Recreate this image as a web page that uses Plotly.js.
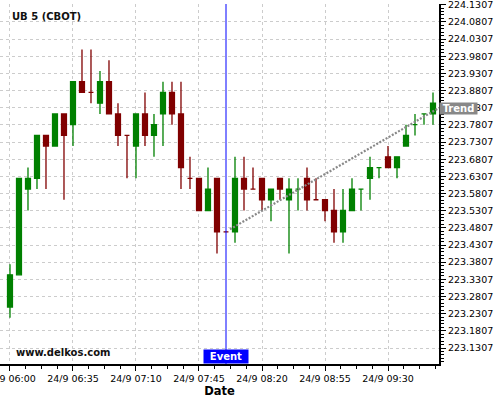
<!DOCTYPE html>
<html>
<head>
<meta charset="utf-8">
<script src="https://cdn.plot.ly/plotly-3.0.1.min.js"></script>
<style>html,body{margin:0;padding:0;background:#fff;}#chart{width:500px;height:400px;}</style>
</head>
<body>
<div id="chart"></div>
<script>
const times = [
  '2024-09-24 06:00','2024-09-24 06:05','2024-09-24 06:10','2024-09-24 06:15','2024-09-24 06:20','2024-09-24 06:25',
  '2024-09-24 06:30','2024-09-24 06:35','2024-09-24 06:40','2024-09-24 06:45','2024-09-24 06:50','2024-09-24 06:55',
  '2024-09-24 07:00','2024-09-24 07:05','2024-09-24 07:10','2024-09-24 07:15','2024-09-24 07:20','2024-09-24 07:25',
  '2024-09-24 07:30','2024-09-24 07:35','2024-09-24 07:40','2024-09-24 07:45','2024-09-24 07:50','2024-09-24 07:55',
  '2024-09-24 08:00','2024-09-24 08:05','2024-09-24 08:10','2024-09-24 08:15','2024-09-24 08:20','2024-09-24 08:25',
  '2024-09-24 08:30','2024-09-24 08:35','2024-09-24 08:40','2024-09-24 08:45','2024-09-24 08:50','2024-09-24 08:55',
  '2024-09-24 09:00','2024-09-24 09:05','2024-09-24 09:10','2024-09-24 09:15','2024-09-24 09:20','2024-09-24 09:25',
  '2024-09-24 09:30','2024-09-24 09:35','2024-09-24 09:40','2024-09-24 09:45','2024-09-24 09:50','2024-09-24 09:55'
];
const openV = [
  223.25,223.34375,223.59375,223.625,223.75,223.71875,
  223.8125,223.78125,223.90625,223.875,223.84375,223.90625,
  223.8125,223.75,223.71875,223.8125,223.75,223.8125,
  223.875,223.8125,223.625,223.625,223.53125,223.625,
  223.46875,223.46875,223.625,223.59375,223.625,223.5625,
  223.625,223.5625,223.59375,223.625,223.5625,223.5625,
  223.53125,223.46875,223.53125,223.59375,223.625,223.65625,
  223.6875,223.65625,223.71875,223.78125,223.8125,223.8125
];
const highV = [
  223.375,223.625,223.65625,223.75,223.75,223.8125,
  223.8125,223.90625,224.0,224.0,223.9375,223.96875,
  223.84375,223.75,223.8125,223.875,223.8125,223.90625,
  223.90625,223.90625,223.6875,223.625,223.65625,223.625,
  223.46875,223.6875,223.6875,223.65625,223.625,223.59375,
  223.625,223.625,223.625,223.65625,223.625,223.5625,
  223.59375,223.59375,223.625,223.59375,223.6875,223.65625,
  223.71875,223.6875,223.78125,223.8125,223.8125,223.875
];
const lowV = [
  223.21875,223.34375,223.53125,223.59375,223.59375,223.71875,
  223.5625,223.71875,223.875,223.84375,223.8125,223.8125,
  223.71875,223.625,223.625,223.71875,223.6875,223.71875,
  223.78125,223.59375,223.59375,223.53125,223.53125,223.40625,
  223.46875,223.4375,223.53125,223.59375,223.53125,223.5,
  223.5625,223.40625,223.53125,223.53125,223.5625,223.5,
  223.4375,223.4375,223.53125,223.53125,223.5625,223.625,
  223.65625,223.625,223.71875,223.75,223.78125,223.78125
];
const closeV = [
  223.34375,223.625,223.625,223.75,223.71875,223.8125,
  223.75,223.90625,223.875,223.875,223.90625,223.8125,
  223.75,223.75,223.8125,223.75,223.78125,223.875,
  223.8125,223.65625,223.625,223.53125,223.59375,223.46875,
  223.46875,223.625,223.59375,223.59375,223.5625,223.59375,
  223.59375,223.59375,223.59375,223.5625,223.5625,223.53125,
  223.46875,223.53125,223.59375,223.59375,223.65625,223.65625,
  223.65625,223.6875,223.75,223.78125,223.8125,223.84375
];
const trendX = ['2024-09-24 08:02:13','2024-09-24 09:58:20'];
const trendY = [223.4765, 223.83];
const eventTime = '2024-09-24 08:00';
const chartTitle = 'UB 5 (CBOT)';
const watermark = 'www.delkos.com';

const FONT = 'DejaVu Sans';

const traces = [
  {
    type: 'scatter', mode: 'lines', x: trendX, y: trendY,
    line: {color: '#888888', width: 2.2, dash: '2px,1.6px'},
    hoverinfo: 'skip', showlegend: false
  },
  {
    type: 'candlestick', x: times, open: openV, high: highV, low: lowV, close: closeV,
    increasing: {line: {color: '#008000', width: 1.3}, fillcolor: '#008000'},
    decreasing: {line: {color: '#800000', width: 1.3}, fillcolor: '#800000'},
    whiskerwidth: 0, showlegend: false, hoverinfo: 'skip'
  }
];

const layout = {
  width: 500, height: 400,
  margin: {l: 0, r: 61, t: 4, b: 36, pad: 0},
  paper_bgcolor: '#ffffff', plot_bgcolor: '#ffffff',
  showlegend: false,
  boxgap: 0.22,
  font: {family: FONT, size: 9.5, color: '#000000'},
  xaxis: {
    type: 'date',
    range: ['2024-09-24 05:54:27', '2024-09-24 09:58:20'],
    rangeslider: {visible: false},
    tick0: '2024-09-24 06:00', dtick: 2100000,
    tickformat: '%d/%-m %H:%M',
    ticklabeloverflow: 'allow',
    ticks: 'outside', ticklen: 5, tickcolor: '#000', tickwidth: 1,
    minor: {dtick: 525000, tick0: '2024-09-24 06:00', ticks: 'outside', ticklen: 3, tickcolor: '#000', showgrid: false},
    showline: true, linecolor: '#000', linewidth: 2,
    showgrid: true, gridcolor: '#cccccc', griddash: '3px,3px', gridwidth: 1,
    zeroline: false,
    tickfont: {family: FONT, size: 9.5, color: '#000'},
    title: {text: '<b>Date</b>', font: {family: FONT, size: 11.5, color: '#000'}, standoff: 1},
    automargin: false, fixedrange: true
  },
  yaxis: {
    side: 'right',
    range: [223.0841, 224.1327],
    tick0: 223.1307, dtick: 0.05,
    tickformat: '.4f',
    ticklabeloverflow: 'allow',
    ticks: 'outside', ticklen: 5, tickcolor: '#000', tickwidth: 1,
    minor: {dtick: 0.01, tick0: 223.1307, ticks: 'outside', ticklen: 3, tickcolor: '#000', showgrid: false},
    showline: true, linecolor: '#000', linewidth: 2,
    showgrid: true, gridcolor: '#cccccc', griddash: '3px,3px', gridwidth: 1,
    zeroline: false,
    tickfont: {family: FONT, size: 9.5, color: '#000'},
    automargin: false, fixedrange: true
  },
  shapes: [
    {type: 'line', xref: 'x', yref: 'paper', x0: eventTime, x1: eventTime, y0: 0, y1: 1,
     line: {color: '#0000ff', width: 1}, layer: 'above'}
  ],
  annotations: [
    {xref: 'paper', yref: 'paper', x: 0.023, y: 1, xanchor: 'left', yanchor: 'top', yshift: -5,
     text: '<b>' + chartTitle + '</b>', showarrow: false, font: {family: FONT, size: 10, color: '#111'}},
    {xref: 'paper', yref: 'paper', x: 0.033, y: 0, xanchor: 'left', yanchor: 'bottom', yshift: 4,
     text: '<b>' + watermark + '</b>', showarrow: false, font: {family: FONT, size: 10, color: '#111'}},
    {xref: 'x', yref: 'paper', x: eventTime, y: 0, xanchor: 'center', yanchor: 'bottom', yshift: 0,
     text: '<b>Event</b>', showarrow: false, bgcolor: '#0000ff', width: 42, height: 11, borderpad: 1,
     font: {family: FONT, size: 10, color: '#ffffff'}},
    {xref: 'paper', yref: 'y', x: 1, y: trendY[1], xanchor: 'left', yanchor: 'middle', xshift: 0, yshift: -1,
     text: '<b>Trend</b>', showarrow: false, bgcolor: '#888888', width: 35, height: 9, borderpad: 1,
     font: {family: FONT, size: 10, color: '#ffffff'}}
  ]
};

Plotly.newPlot('chart', traces, layout, {displayModeBar: false, staticPlot: true});
</script>
</body>
</html>
